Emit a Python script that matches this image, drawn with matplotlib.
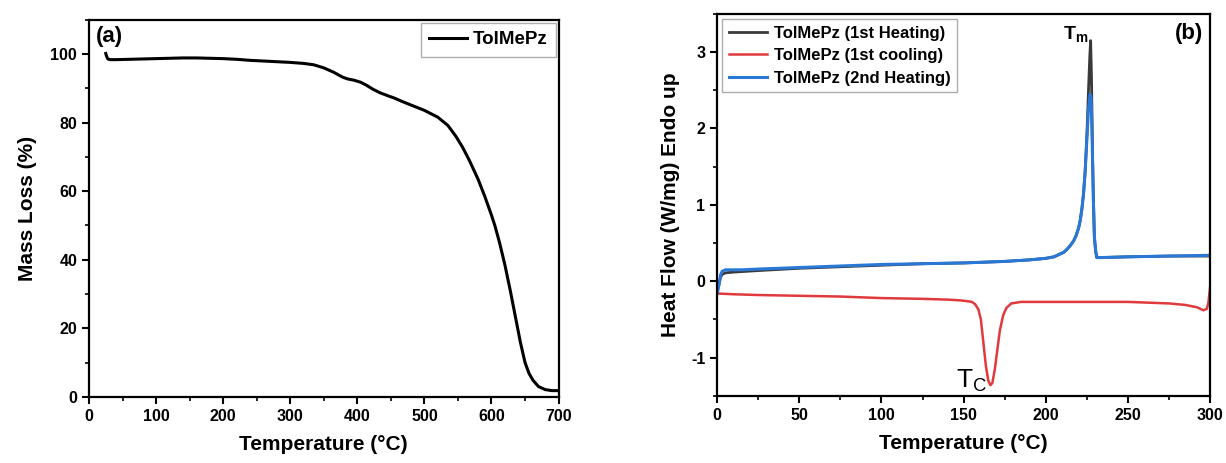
import numpy as np
import matplotlib.pyplot as plt
from matplotlib.ticker import MultipleLocator

plt.rcParams['font.family'] = ['Liberation Sans', 'DejaVu Sans']
plt.rcParams['font.weight'] = 'bold'
plt.rcParams['axes.unicode_minus'] = False
plt.rcParams['mathtext.fontset'] = 'custom'
plt.rcParams['mathtext.rm'] = 'Liberation Sans'
plt.rcParams['mathtext.bf'] = 'Liberation Sans:bold'

# (a) TGA
temp_tga = [25, 26, 28, 32, 40, 60, 80, 100, 120, 140, 160, 180, 200, 220, 240,
            260, 280, 300, 320, 335, 350, 365, 378, 385, 395, 405, 413, 423, 433,
            445, 455, 468, 482, 500, 520, 535, 547, 557, 567, 580, 590, 600, 605,
            612, 620, 628, 636, 643, 650, 656, 662, 670, 680, 690, 700]
mass_tga = [100.2, 99.5, 98.6, 98.4, 98.4, 98.5, 98.6, 98.7, 98.8, 98.9, 98.9,
            98.8, 98.7, 98.5, 98.2, 98.0, 97.8, 97.6, 97.3, 96.9, 96.0, 94.7,
            93.3, 92.8, 92.4, 91.8, 91.0, 89.8, 88.8, 87.9, 87.2, 86.1, 85.0,
            83.6, 81.6, 79.2, 76.0, 72.8, 69.0, 63.5, 58.5, 53.0, 50.0, 45.0,
            38.5, 31.0, 23.0, 16.0, 10.0, 6.8, 4.8, 3.0, 2.1, 1.8, 1.8]

# (b) DSC
temp_h1 = [0, 1, 2, 3, 5, 10, 25, 50, 75, 100, 125, 150, 175, 190, 200, 205, 208,
           211, 213, 215, 217, 218.5, 220, 221, 222, 223, 224, 225, 226, 226.8,
           227.3, 227.8, 228.5, 229.5, 230.3, 231, 233, 250, 275, 300]
hf_h1 = [-0.15, -0.05, 0.05, 0.09, 0.11, 0.12, 0.14, 0.17, 0.19, 0.21, 0.23, 0.24,
         0.26, 0.28, 0.30, 0.32, 0.35, 0.38, 0.42, 0.47, 0.53, 0.60, 0.70, 0.80,
         0.95, 1.15, 1.45, 1.90, 2.50, 2.95, 3.15, 2.70, 1.60, 0.60, 0.40, 0.31,
         0.31, 0.32, 0.33, 0.33]

temp_c1 = [0, 10, 25, 50, 75, 100, 125, 140, 148, 152, 155, 157, 159, 160.5, 162,
           163.5, 165, 166.3, 167.5, 169, 170.5, 172, 174, 176, 179, 185, 200, 225,
           250, 275, 285, 292, 296, 298, 299, 300]
hf_c1 = [-0.16, -0.17, -0.18, -0.19, -0.20, -0.22, -0.23, -0.24, -0.25, -0.26,
         -0.27, -0.30, -0.37, -0.50, -0.80, -1.10, -1.30, -1.36, -1.33, -1.15,
         -0.90, -0.65, -0.45, -0.35, -0.29, -0.27, -0.27, -0.27, -0.27, -0.29,
         -0.31, -0.34, -0.38, -0.36, -0.28, -0.08]

temp_h2 = [0, 1, 2, 3, 5, 10, 15, 25, 50, 75, 100, 125, 150, 175, 190, 200, 205,
           208, 211, 213, 215, 217, 218.5, 220, 221, 222, 223, 224, 225, 226, 227,
           227.6, 228.2, 228.9, 229.7, 230.5, 231.2, 233, 250, 275, 300]
hf_h2 = [-0.16, -0.05, 0.08, 0.13, 0.15, 0.15, 0.15, 0.16, 0.18, 0.20, 0.22,
         0.23, 0.24, 0.26, 0.28, 0.30, 0.32, 0.35, 0.38, 0.42, 0.47, 0.53, 0.60,
         0.70, 0.80, 0.95, 1.15, 1.45, 1.85, 2.25, 2.45, 2.40, 1.90, 1.10, 0.55,
         0.38, 0.31, 0.31, 0.32, 0.33, 0.34]

fig = plt.figure(figsize=(12.26, 4.63), dpi=100)
ax1 = fig.add_axes([0.0726, 0.143, 0.383, 0.814])
ax2 = fig.add_axes([0.585, 0.145, 0.402, 0.825])


def style_axes(ax):
    for s in ax.spines.values():
        s.set_linewidth(1.6)
    ax.tick_params(which='major', direction='out', length=5, width=1.5, labelsize=11.5)
    ax.tick_params(which='minor', direction='out', length=3, width=1.2)
    for lab in ax.get_xticklabels() + ax.get_yticklabels():
        lab.set_fontweight('bold')


ax1.plot(temp_tga, mass_tga, color='black', lw=2.2, label='TolMePz')
ax1.set_xlim(0, 700)
ax1.set_ylim(0, 110)
ax1.xaxis.set_major_locator(MultipleLocator(100))
ax1.xaxis.set_minor_locator(MultipleLocator(50))
ax1.yaxis.set_major_locator(MultipleLocator(20))
ax1.yaxis.set_minor_locator(MultipleLocator(10))
ax1.set_yticks([0, 20, 40, 60, 80, 100])
style_axes(ax1)
ax1.set_xlabel('Temperature (°C)', fontsize=15, fontweight='bold', labelpad=8)
ax1.set_ylabel('Mass Loss (%)', fontsize=15, fontweight='bold', labelpad=10)
ax1.text(0.015, 0.985, '(a)', transform=ax1.transAxes, fontsize=16,
         fontweight='bold', va='top', ha='left')
leg1 = ax1.legend(loc='upper right', fontsize=13.5, fancybox=False,
                  edgecolor='#999999', handlelength=2.0, borderaxespad=0.15,
                  borderpad=0.45, handletextpad=0.3)
leg1.get_frame().set_linewidth(1.0)

ax2.plot(temp_h1, hf_h1, color='#3a3a3a', lw=2.0, label='TolMePz (1st Heating)')
ax2.plot(temp_c1, hf_c1, color='#e03a3c', lw=1.8, label='TolMePz (1st cooling)')
ax2.plot(temp_h2, hf_h2, color='#2a78d6', lw=2.2, label='TolMePz (2nd Heating)')
ax2.set_xlim(0, 300)
ax2.set_ylim(-1.5, 3.5)
ax2.xaxis.set_major_locator(MultipleLocator(50))
ax2.xaxis.set_minor_locator(MultipleLocator(25))
ax2.yaxis.set_major_locator(MultipleLocator(1))
ax2.yaxis.set_minor_locator(MultipleLocator(0.5))
style_axes(ax2)
ax2.set_xlabel('Temperature (°C)', fontsize=15, fontweight='bold', labelpad=8)
ax2.set_ylabel('Heat Flow (W/mg) Endo up', fontsize=15, fontweight='bold', labelpad=8)
ax2.text(0.985, 0.975, '(b)', transform=ax2.transAxes, fontsize=16,
         fontweight='bold', va='top', ha='right')
ax2.text(218, 3.22, r'T$_\mathbf{m}$', fontsize=14, fontweight='bold',
         ha='center', va='center')
ax2.text(155, -1.30, r'T$_\mathregular{C}$', fontsize=19, fontweight='normal',
         ha='center', va='center')
leg2 = ax2.legend(loc='upper left', fontsize=12, fancybox=False,
                  edgecolor='#999999', handlelength=2.3, borderaxespad=0.3,
                  borderpad=0.4, handletextpad=0.4, labelspacing=0.45)
leg2.get_frame().set_linewidth(1.0)

fig.savefig('out.png', dpi=100)
